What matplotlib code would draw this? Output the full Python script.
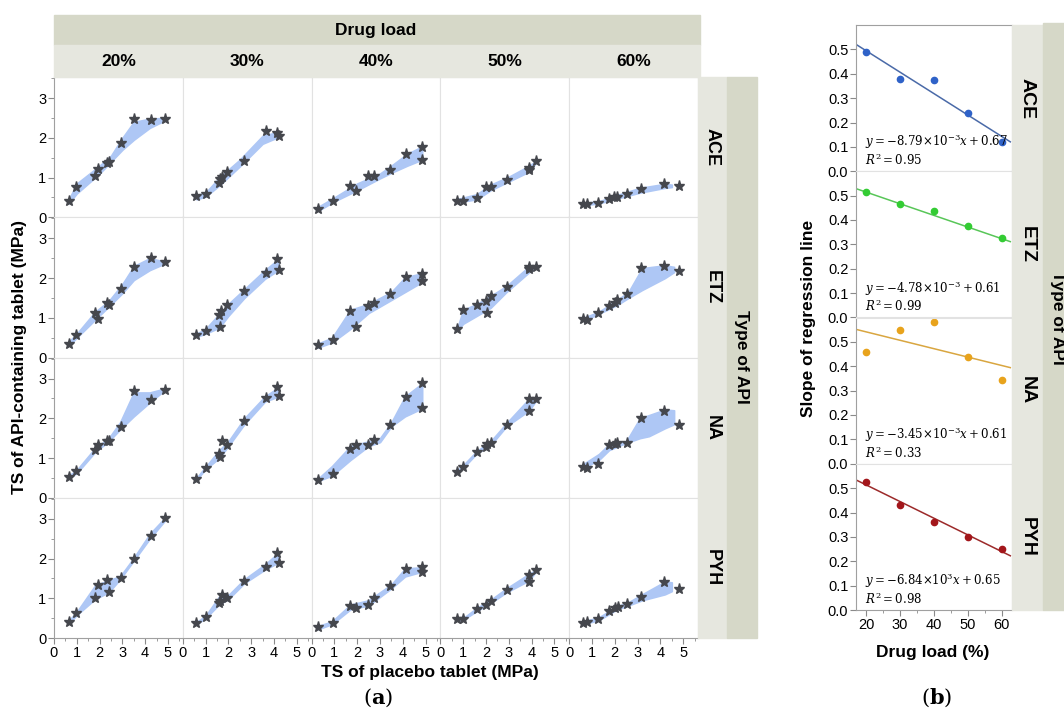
import numpy as np
import matplotlib
matplotlib.use('Agg')
import matplotlib.pyplot as plt
from matplotlib.patches import Rectangle
from matplotlib.ticker import MultipleLocator

plt.rcParams['font.family'] = ['Liberation Sans', 'DejaVu Sans']
plt.rcParams['mathtext.fontset'] = 'dejavuserif'

# ---- data ----
apis = ['ACE', 'ETZ', 'NA', 'PYH']
loads = ['20%', '30%', '40%', '50%', '60%']

# (a) measured tablets (stars), one list per drug load
ace_star_x = [[0.65, 0.97, 1.78, 1.91, 2.34, 2.41, 2.93, 3.51, 4.24, 4.88],
              [0.60, 1.03, 1.59, 1.64, 1.70, 1.96, 2.67, 3.64, 4.15, 4.24],
              [0.28, 0.93, 1.68, 1.93, 2.49, 2.75, 3.46, 4.13, 4.86, 4.84],
              [0.75, 0.99, 1.61, 2.00, 2.20, 2.90, 3.89, 3.89, 4.21],
              [0.62, 0.80, 1.27, 1.74, 1.96, 2.11, 2.54, 3.14, 4.17, 4.82]]
ace_star_y = [[0.42, 0.77, 1.04, 1.21, 1.36, 1.40, 1.86, 2.48, 2.46, 2.48],
              [0.53, 0.58, 0.86, 0.96, 1.02, 1.15, 1.42, 2.18, 2.11, 2.05],
              [0.21, 0.42, 0.78, 0.67, 1.03, 1.03, 1.18, 1.59, 1.77, 1.45],
              [0.42, 0.42, 0.48, 0.76, 0.76, 0.94, 1.25, 1.19, 1.42],
              [0.33, 0.33, 0.37, 0.47, 0.50, 0.52, 0.59, 0.72, 0.83, 0.78]]
etz_star_x = [[0.65, 0.97, 1.78, 1.91, 2.34, 2.41, 2.93, 3.51, 4.24, 4.88],
              [0.60, 1.03, 1.63, 1.59, 1.68, 1.96, 2.67, 3.64, 4.15, 4.24],
              [0.28, 0.93, 1.68, 1.93, 2.49, 2.75, 3.46, 4.13, 4.86, 4.84],
              [0.75, 0.99, 1.61, 2.00, 2.06, 2.20, 2.90, 3.89, 3.89, 4.21],
              [0.62, 0.80, 1.27, 1.74, 2.02, 2.11, 2.54, 3.14, 4.15, 4.82]]
etz_star_y = [[0.35, 0.57, 1.13, 0.98, 1.36, 1.32, 1.73, 2.28, 2.50, 2.40],
              [0.57, 0.67, 0.78, 1.07, 1.18, 1.32, 1.67, 2.13, 2.48, 2.21],
              [0.32, 0.44, 1.18, 0.78, 1.29, 1.36, 1.61, 2.03, 2.11, 1.92],
              [0.72, 1.19, 1.33, 1.42, 1.13, 1.55, 1.78, 2.23, 2.28, 2.28],
              [0.98, 0.94, 1.13, 1.30, 1.36, 1.44, 1.61, 2.26, 2.30, 2.18]]
na_star_x = [[0.65, 0.97, 1.78, 1.91, 2.34, 2.41, 2.93, 3.51, 4.24, 4.88],
             [0.60, 1.03, 1.59, 1.64, 1.72, 1.96, 2.67, 3.64, 4.15, 4.24],
             [0.28, 0.93, 1.68, 1.93, 2.49, 2.75, 3.46, 4.13, 4.86, 4.84],
             [0.75, 0.99, 1.61, 2.00, 2.06, 2.20, 2.90, 3.89, 3.89, 4.21],
             [0.62, 0.80, 1.27, 1.74, 2.02, 2.11, 2.54, 3.14, 4.17, 4.82]]
na_star_y = [[0.53, 0.67, 1.19, 1.32, 1.44, 1.42, 1.78, 2.69, 2.46, 2.72],
             [0.47, 0.75, 1.11, 1.03, 1.43, 1.32, 1.94, 2.50, 2.78, 2.55],
             [0.44, 0.61, 1.23, 1.33, 1.32, 1.46, 1.83, 2.53, 2.88, 2.25],
             [0.65, 0.78, 1.15, 1.28, 1.36, 1.38, 1.84, 2.48, 2.19, 2.48],
             [0.78, 0.76, 0.84, 1.33, 1.36, 1.38, 1.38, 2.00, 2.19, 1.82]]
pyh_star_x = [[0.65, 0.97, 1.78, 1.91, 2.34, 2.41, 2.93, 3.51, 4.24, 4.88],
              [0.60, 1.03, 1.59, 1.64, 1.72, 1.96, 2.67, 3.64, 4.15, 4.24],
              [0.28, 0.93, 1.68, 1.93, 2.49, 2.75, 3.46, 4.13, 4.86, 4.84],
              [0.75, 0.99, 1.61, 2.00, 2.20, 2.90, 3.89, 3.89, 4.21],
              [0.62, 0.80, 1.27, 1.74, 2.02, 2.15, 2.54, 3.14, 4.17, 4.82]]
pyh_star_y = [[0.40, 0.62, 1.00, 1.33, 1.46, 1.15, 1.50, 1.98, 2.57, 3.02],
              [0.38, 0.53, 0.88, 0.94, 1.07, 1.00, 1.44, 1.78, 2.15, 1.90],
              [0.28, 0.38, 0.80, 0.75, 0.83, 1.00, 1.30, 1.73, 1.78, 1.67],
              [0.47, 0.47, 0.72, 0.82, 0.94, 1.21, 1.59, 1.42, 1.72],
              [0.38, 0.40, 0.48, 0.67, 0.76, 0.78, 0.86, 1.03, 1.42, 1.23]]

# (a) outline of the light-blue predicted cloud: x, lower edge, upper edge
ace_band_x = [[0.65, 1, 2, 2.5, 3, 3.5, 4.2, 4.8],
              [0.6, 1.0, 1.6, 2.5, 3.5, 4.2],
              [0.28, 1, 2, 3, 3.5, 4.2, 4.85],
              [0.75, 1.6, 2.2, 3, 3.9, 4.2],
              [0.62, 1.3, 2.1, 3.1, 4.2, 4.5]]
ace_band_lo = [[0.35, 0.6, 1.1, 1.4, 1.7, 1.95, 2.25, 2.42],
               [0.45, 0.52, 0.8, 1.28, 1.85, 2.02],
               [0.16, 0.4, 0.68, 0.98, 1.12, 1.3, 1.45],
               [0.38, 0.45, 0.68, 0.9, 1.15, 1.38],
               [0.3, 0.35, 0.47, 0.62, 0.74, 0.76]]
ace_band_hi = [[0.45, 0.85, 1.3, 1.55, 2.0, 2.4, 2.48, 2.5],
               [0.56, 0.62, 1.0, 1.45, 2.05, 2.15],
               [0.26, 0.5, 0.85, 1.1, 1.3, 1.6, 1.78],
               [0.46, 0.58, 0.82, 1.02, 1.3, 1.42],
               [0.36, 0.4, 0.56, 0.74, 0.84, 0.82]]
etz_band_x = [[0.65, 1, 1.8, 2.4, 3, 3.5, 4.2, 4.8],
              [0.6, 1.0, 1.6, 2.0, 2.7, 3.6, 4.2],
              [0.28, 0.9, 1.7, 2.5, 3.5, 4.1, 4.85],
              [0.75, 1.0, 1.6, 2.2, 2.9, 3.9, 4.2],
              [0.62, 1.3, 2.1, 2.6, 3.2, 4.2, 4.6]]
etz_band_lo = [[0.3, 0.5, 0.95, 1.28, 1.62, 1.95, 2.2, 2.35],
               [0.52, 0.6, 0.75, 1.05, 1.5, 1.98, 2.2],
               [0.25, 0.38, 0.72, 1.12, 1.45, 1.65, 1.9],
               [0.68, 0.85, 1.05, 1.25, 1.65, 2.15, 2.25],
               [0.92, 1.1, 1.32, 1.5, 1.7, 2.0, 2.15]]
etz_band_hi = [[0.4, 0.6, 1.15, 1.42, 1.85, 2.3, 2.5, 2.42],
               [0.6, 0.72, 1.1, 1.35, 1.72, 2.2, 2.48],
               [0.35, 0.5, 1.2, 1.35, 1.65, 2.02, 2.12],
               [0.76, 1.2, 1.35, 1.55, 1.8, 2.3, 2.3],
               [1.0, 1.15, 1.45, 1.65, 2.25, 2.32, 2.28]]
na_band_x = [[0.65, 1, 1.8, 2.4, 2.9, 3.5, 4.2, 4.8],
             [0.6, 1.0, 1.6, 2.0, 2.7, 3.6, 4.2],
             [0.28, 0.9, 1.7, 2.5, 3.0, 3.5, 4.1, 4.85],
             [0.75, 1.0, 1.6, 2.2, 2.9, 3.9, 4.2],
             [0.62, 1.3, 1.75, 2.5, 3.1, 3.5, 4.2, 4.6]]
na_band_lo = [[0.5, 0.62, 1.15, 1.42, 1.72, 2.05, 2.4, 2.68],
              [0.45, 0.72, 1.0, 1.3, 1.85, 2.42, 2.55],
              [0.42, 0.56, 0.95, 1.3, 1.4, 1.8, 2.05, 2.25],
              [0.62, 0.75, 1.12, 1.32, 1.8, 2.2, 2.45],
              [0.75, 0.95, 1.2, 1.38, 1.5, 1.55, 1.75, 1.85]]
na_band_hi = [[0.56, 0.7, 1.25, 1.5, 1.9, 2.65, 2.65, 2.74],
              [0.5, 0.78, 1.2, 1.42, 2.0, 2.55, 2.78],
              [0.48, 0.8, 1.3, 1.42, 1.5, 1.9, 2.55, 2.88],
              [0.7, 0.82, 1.18, 1.42, 1.88, 2.5, 2.5],
              [0.85, 1.1, 1.35, 1.42, 2.0, 2.08, 2.22, 2.2]]
pyh_band_x = [[0.65, 1, 1.8, 2.4, 2.9, 3.5, 4.2, 4.9],
              [0.6, 1.0, 1.6, 2.0, 2.7, 3.6, 4.2],
              [0.28, 0.9, 1.7, 2.5, 3.5, 4.1, 4.85],
              [0.75, 1.0, 1.6, 2.2, 2.9, 3.9, 4.2],
              [0.62, 1.3, 2.1, 2.6, 3.2, 4.2, 4.5]]
pyh_band_lo = [[0.36, 0.58, 0.98, 1.15, 1.48, 1.95, 2.5, 2.98],
               [0.35, 0.5, 0.85, 0.98, 1.38, 1.72, 1.9],
               [0.22, 0.35, 0.72, 0.82, 1.25, 1.55, 1.67],
               [0.44, 0.46, 0.68, 0.88, 1.15, 1.45, 1.68],
               [0.35, 0.45, 0.72, 0.82, 0.95, 1.1, 1.18]]
pyh_band_hi = [[0.44, 0.66, 1.32, 1.46, 1.55, 2.02, 2.62, 3.05],
               [0.4, 0.56, 1.05, 1.08, 1.48, 1.85, 2.15],
               [0.3, 0.42, 0.84, 0.95, 1.35, 1.75, 1.78],
               [0.5, 0.5, 0.76, 0.96, 1.25, 1.62, 1.72],
               [0.42, 0.52, 0.8, 0.9, 1.1, 1.42, 1.4]]

# (b) slope of regression line vs drug load
drug_load = [20, 30, 40, 50, 60]
slope_ace = [0.49, 0.38, 0.375, 0.24, 0.12]
slope_etz = [0.515, 0.465, 0.435, 0.375, 0.325]
slope_na = [0.46, 0.55, 0.58, 0.44, 0.345]
slope_pyh = [0.525, 0.43, 0.36, 0.30, 0.25]
fit_slope = [-8.79e-3, -4.78e-3, -3.45e-3, -6.84e-3]
fit_icpt = [0.67, 0.61, 0.61, 0.65]
eq_text = [r'$y=-8.79{\times}10^{-3}x+0.67$',
           r'$y=-4.78{\times}10^{-3}+0.61$',
           r'$y=-3.45{\times}10^{-3}x+0.61$',
           r'$y=-6.84{\times}10^{3}x+0.65$']
r2_text = [r'$R^2=0.95$', r'$R^2=0.99$', r'$R^2=0.33$', r'$R^2=0.98$']

star_x = [ace_star_x, etz_star_x, na_star_x, pyh_star_x]
star_y = [ace_star_y, etz_star_y, na_star_y, pyh_star_y]
band_x = [ace_band_x, etz_band_x, na_band_x, pyh_band_x]
band_lo = [ace_band_lo, etz_band_lo, na_band_lo, pyh_band_lo]
band_hi = [ace_band_hi, etz_band_hi, na_band_hi, pyh_band_hi]
slopes = [slope_ace, slope_etz, slope_na, slope_pyh]

# ---- styling ----
W, H = 1064, 716
band_col = '#aec7f5'
star_col = '#45474d'
grid_col = '#e2e2e2'
axis_col = '#a0a0a0'
strip_dark = '#d6d8c8'
strip_light = '#e6e7df'
pt_cols = ['#2f62c8', '#33cc33', '#e8a31c', '#a3161b']
line_cols = ['#4a6aa8', '#58c658', '#d9a640', '#9c2a2a']

fig = plt.figure(figsize=(W / 100, H / 100), dpi=100)


def px_axes(x0, y0, x1, y1):
    return fig.add_axes([x0 / W, 1 - y1 / H, (x1 - x0) / W, (y1 - y0) / H])


def strip(x0, y0, x1, y1, color):
    fig.patches.append(Rectangle((x0 / W, 1 - y1 / H), (x1 - x0) / W, (y1 - y0) / H,
                                 transform=fig.transFigure, color=color, zorder=0))


def ftext(x, y, s, **kw):
    fig.text(x / W, 1 - y / H, s, ha='center', va='center', **kw)


def style_axes(ax, left_on, bottom_on):
    for s in ax.spines.values():
        s.set_color(grid_col)
        s.set_linewidth(0.8)
    if left_on:
        ax.spines['left'].set_color(axis_col)
    if bottom_on:
        ax.spines['bottom'].set_color(axis_col)
    ax.tick_params(which='both', direction='out', color='#8a8a8a', labelsize=10.5,
                   pad=1.5, left=left_on, labelleft=left_on,
                   bottom=bottom_on, labelbottom=bottom_on)
    ax.tick_params(which='major', length=4)
    ax.tick_params(which='minor', length=2)


# ---- panel (a) ----
col_edges = np.linspace(54, 698, 6)
row_edges = np.linspace(77, 638, 5)

strip(54, 15, 700, 45, strip_dark)
strip(54, 45, 700, 77, strip_light)
strip(698, 77, 727, 638, strip_light)
strip(727, 77, 757, 638, strip_dark)

for r in range(4):
    for c in range(5):
        ax = px_axes(col_edges[c], row_edges[r], col_edges[c + 1], row_edges[r + 1])
        ax.fill_between(band_x[r][c], band_lo[r][c], band_hi[r][c],
                        color=band_col, lw=1.2, edgecolor=band_col)
        ax.plot(star_x[r][c], star_y[r][c], '*', ms=8, color=star_col, mec=star_col)
        ax.set_xlim(0, 5.65)
        ax.set_ylim(0, 3.53)
        ax.set_xticks([0, 1, 2, 3, 4, 5])
        ax.xaxis.set_minor_locator(MultipleLocator(0.5))
        ax.set_yticks([0, 1, 2, 3])
        ax.yaxis.set_minor_locator(MultipleLocator(0.5))
        style_axes(ax, c == 0, r == 3)

for c in range(5):
    ftext((col_edges[c] + col_edges[c + 1]) / 2, 61, loads[c], fontsize=12.5,
          fontweight='bold')
for r in range(4):
    ftext(712.5, (row_edges[r] + row_edges[r + 1]) / 2, apis[r], fontsize=13,
          fontweight='bold', rotation=270)

ftext(376, 30, 'Drug load', fontsize=12.5, fontweight='bold')
ftext(742, 357, 'Type of API', fontsize=12.5, fontweight='bold', rotation=270)
ftext(20, 357, 'TS of API-containing tablet (MPa)', fontsize=12.5, fontweight='bold',
      rotation=90)
ftext(430, 672, 'TS of placebo tablet (MPa)', fontsize=12.5, fontweight='bold')
ftext(378, 698, r'($\mathbf{a}$)', fontsize=15, family='DejaVu Serif')

# ---- panel (b) ----
b_rows = np.linspace(25, 610, 5)
strip(1012, 25, 1043, 610, strip_light)
strip(1043, 23, 1064, 610, strip_dark)

for r in range(4):
    ax = px_axes(856, b_rows[r], 1012, b_rows[r + 1])
    xl = np.array([17.3, 62.5])
    ax.plot(xl, fit_slope[r] * xl + fit_icpt[r], color=line_cols[r], lw=1.1)
    ax.plot(drug_load, slopes[r], 'o', ms=4.5, color=pt_cols[r])
    ax.set_xlim(17, 63)
    ax.set_ylim(0, 0.6)
    ax.set_yticks([0, 0.1, 0.2, 0.3, 0.4, 0.5])
    ax.set_yticklabels(['0.0', '0.1', '0.2', '0.3', '0.4', '0.5'])
    ax.set_xticks(drug_load)
    ax.xaxis.set_minor_locator(MultipleLocator(5))
    style_axes(ax, True, r == 3)
    ax.spines['top'].set_color(grid_col if r else axis_col)
    ax.text(19.8, 0.12, eq_text[r], fontsize=8.5, va='center', ha='left')
    ax.text(19.8, 0.045, r2_text[r], fontsize=8.5, va='center', ha='left')
    ftext(1027.5, (b_rows[r] + b_rows[r + 1]) / 2, apis[r], fontsize=14,
          fontweight='bold', rotation=270)

ftext(1057, 318, 'Type of API', fontsize=12.5, fontweight='bold', rotation=270)
ftext(808, 318, 'Slope of regression line', fontsize=12.5, fontweight='bold', rotation=90)
ftext(933, 652, 'Drug load (%)', fontsize=12.5, fontweight='bold')
ftext(937, 698, r'($\mathbf{b}$)', fontsize=15, family='DejaVu Serif')

fig.savefig('out.png', dpi=100)
